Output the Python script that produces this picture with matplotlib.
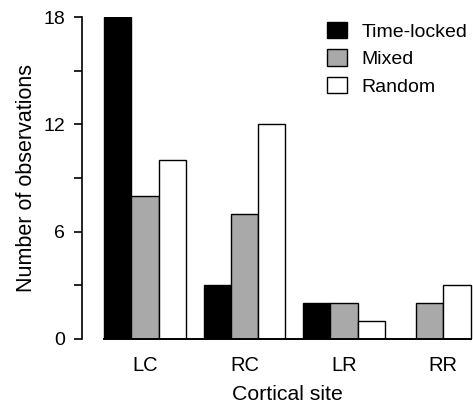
import numpy as np
import matplotlib
matplotlib.use('Agg')
import matplotlib.pyplot as plt

plt.rcParams['font.family'] = ['Liberation Sans', 'DejaVu Sans']

# Dados
sites = ['LC', 'RC', 'LR', 'RR']
series_names = ['Time-locked', 'Mixed', 'Random']
time_locked = [18, 3, 2, 0]
mixed = [8, 7, 2, 2]
random_obs = [10, 12, 1, 3]
colors = ['black', '#a9a9a9', 'white']

values = [time_locked, mixed, random_obs]
bar_w = 0.2745

fig = plt.figure(figsize=(4.73, 4.04), dpi=100)
ax = fig.add_axes([0.1734, 0.1609, 0.8266, 0.7970])

# posicoes: barras nao nulas centradas em cada local
xs = [[] for _ in series_names]
hs = [[] for _ in series_names]
for i in range(len(sites)):
    present = [k for k in range(len(series_names)) if values[k][i] > 0]
    n = len(present)
    for j, k in enumerate(present):
        xs[k].append(i + (j - (n - 1) / 2) * bar_w)
        hs[k].append(values[k][i])

handles = []
for k, name in enumerate(series_names):
    b = ax.bar(xs[k], hs[k], width=bar_w, color=colors[k], edgecolor='black',
               linewidth=1.0, label=name)
    handles.append(b)

all_x = np.concatenate([np.array(x) for x in xs])
left = all_x.min() - bar_w / 2
right = all_x.max() + bar_w / 2

ax.set_xlim(-0.634, 3.298)
ax.set_ylim(0, 18)

ax.spines['top'].set_visible(False)
ax.spines['right'].set_visible(False)
ax.spines['left'].set_linewidth(1.2)
ax.spines['bottom'].set_linewidth(1.4)
ax.spines['bottom'].set_bounds(left, right)

ax.set_xticks(range(len(sites)))
ax.set_xticklabels(sites, fontsize=14.5)
ax.tick_params(axis='x', length=0, pad=12)

ax.set_yticks([0, 6, 12, 18])
ax.set_yticks([3, 9, 15], minor=True)
ax.tick_params(axis='y', which='both', direction='out', length=6, width=1.2)
ax.tick_params(axis='y', which='major', labelsize=14, pad=6)

ax.set_xlabel('Cortical site', fontsize=15.3)
mid = (left + right) / 2
ax.xaxis.set_label_coords((mid + 0.634) / (3.298 + 0.634), -0.143)
ax.set_ylabel('Number of observations', fontsize=15.5)
ax.yaxis.set_label_coords(-0.115, 0.5)

ax.legend(handles=handles, loc='upper left', bbox_to_anchor=(0.627, 0.985),
          frameon=False, fontsize=14, handlelength=1.0, handleheight=0.9,
          handletextpad=0.75, labelspacing=0.45, borderpad=0, borderaxespad=0)

fig.savefig('out.png', dpi=100)
